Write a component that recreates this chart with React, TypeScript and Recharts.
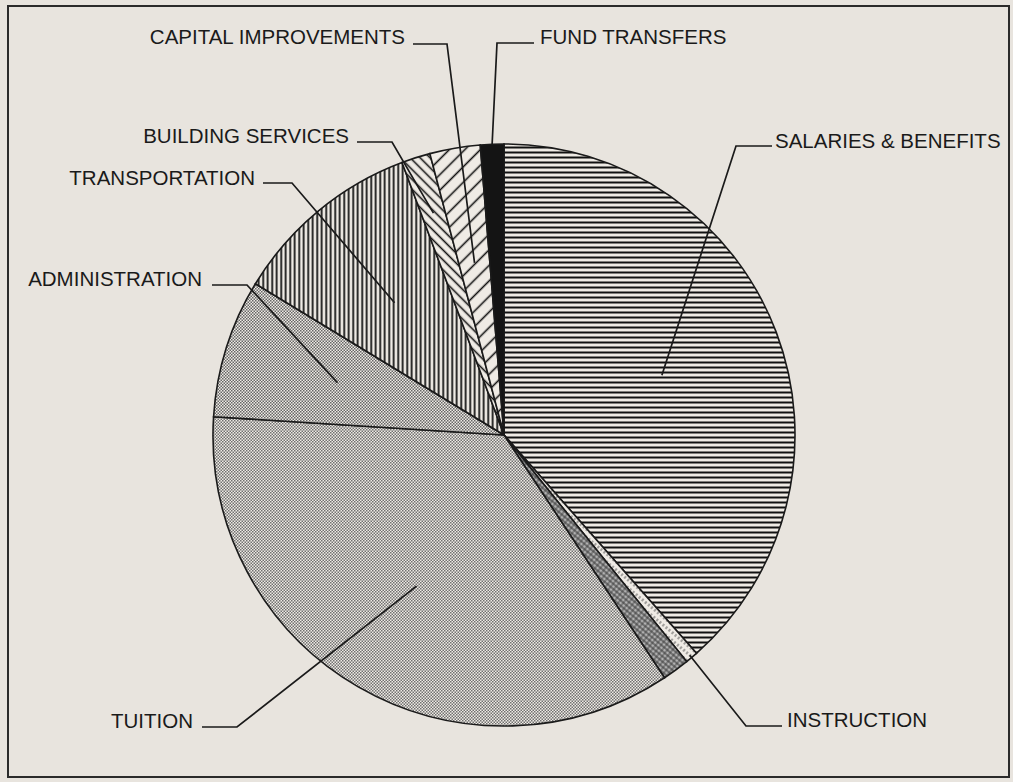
import React from 'react';
import { PieChart, Pie, Cell } from 'recharts';

// budget shares (percent), clockwise from 12 o'clock
const categories = [
  'SALARIES & BENEFITS',
  'INSTRUCTION',
  'OTHER',
  'TUITION',
  'ADMINISTRATION',
  'TRANSPORTATION',
  'BUILDING SERVICES',
  'CAPITAL IMPROVEMENTS',
  'FUND TRANSFERS',
];
const shares = [38.5, 0.7, 1.5, 35.3, 7.7, 10.6, 1.6, 2.8, 1.3];
const labelTexts = [
  'SALARIES & BENEFITS',
  'INSTRUCTION',
  '',
  'TUITION',
  'ADMINISTRATION',
  'TRANSPORTATION',
  'BUILDING SERVICES',
  'CAPITAL IMPROVEMENTS',
  'FUND TRANSFERS',
];

const data = categories.map((name, i) => ({ name, value: shares[i] }));

// where each callout sits: text anchor, leader elbow, and how deep into the slice it points
const labelLayout: ({ tx: number; ty: number; anchor: 'start' | 'end'; ly: number; x0: number; elbow: number; depth: number } | null)[] = [
  { tx: 775, ty: 140, anchor: 'start', ly: 146, x0: 772, elbow: 736, depth: 0.58 },
  { tx: 787, ty: 719, anchor: 'start', ly: 726, x0: 782, elbow: 746, depth: 0.99 },
  null,
  { tx: 193, ty: 720, anchor: 'end', ly: 727, x0: 202, elbow: 237, depth: 0.6 },
  { tx: 202, ty: 278, anchor: 'end', ly: 285, x0: 212, elbow: 247, depth: 0.6 },
  { tx: 255, ty: 177, anchor: 'end', ly: 183, x0: 263, elbow: 292, depth: 0.59 },
  { tx: 349, ty: 135, anchor: 'end', ly: 142, x0: 357, elbow: 392, depth: 0.8 },
  { tx: 405, ty: 36, anchor: 'end', ly: 44, x0: 413, elbow: 447, depth: 0.6 },
  { tx: 540, ty: 36, anchor: 'start', ly: 43, x0: 534, elbow: 497, depth: 1.0 },
];

const fills = [
  'url(#p-hlines)',
  'url(#p-light)',
  'url(#p-cross)',
  'url(#p-dots)',
  'url(#p-dots2)',
  'url(#p-vlines)',
  'url(#p-back)',
  'url(#p-fwd)',
  '#141414',
];

const BG = '#e8e4de';
const PAPER = '#efebe5';
const INK = '#1a1a1a';

const renderLabel = (props: any) => {
  const { cx, cy, midAngle, outerRadius, index } = props;
  const lay = labelLayout[index];
  if (!lay) return <g />;
  const RAD = Math.PI / 180;
  const r = outerRadius * lay.depth;
  const px = cx + r * Math.cos(-midAngle * RAD);
  const py = cy + r * Math.sin(-midAngle * RAD);
  return (
    <g>
      <polyline
        points={`${lay.x0},${lay.ly} ${lay.elbow},${lay.ly} ${px},${py}`}
        fill="none"
        stroke={INK}
        strokeWidth={1.7}
      />
      <text
        x={lay.tx}
        y={lay.ty}
        textAnchor={lay.anchor}
        dominantBaseline="central"
        fontFamily="'Liberation Sans', Arial, sans-serif"
        fontSize={20.5}
        fill={INK}
      >
        {labelTexts[index]}
      </text>
    </g>
  );
};

export default function App() {
  return (
    <div
      style={{
        position: 'absolute',
        left: 0,
        top: 0,
        width: 1013,
        height: 782,
        background: BG,
      }}
    >
      <div
        style={{
          position: 'absolute',
          left: 7,
          top: 5,
          width: 999,
          height: 769,
          border: '2px solid #2b2b2b',
        }}
      />
      <div style={{ position: 'absolute', left: 0, top: 0 }}>
        <PieChart width={1013} height={782} margin={{ top: 0, right: 0, bottom: 0, left: 0 }}>
          <defs>
            <pattern id="p-hlines" patternUnits="userSpaceOnUse" width={8} height={5}>
              <rect width={8} height={5} fill={PAPER} />
              <line x1={0} y1={2.5} x2={8} y2={2.5} stroke="#111" strokeWidth={2} />
            </pattern>
            <pattern id="p-vlines" patternUnits="userSpaceOnUse" width={4.5} height={8}>
              <rect width={4.5} height={8} fill={PAPER} />
              <line x1={2.2} y1={0} x2={2.2} y2={8} stroke="#111" strokeWidth={1.8} />
            </pattern>
            <pattern id="p-back" patternUnits="userSpaceOnUse" width={8} height={7} patternTransform="rotate(45)">
              <rect width={8} height={7} fill={PAPER} />
              <line x1={0} y1={3.5} x2={8} y2={3.5} stroke="#111" strokeWidth={1.6} />
            </pattern>
            <pattern id="p-fwd" patternUnits="userSpaceOnUse" width={8} height={11} patternTransform="rotate(-45)">
              <rect width={8} height={11} fill={PAPER} />
              <line x1={0} y1={5.5} x2={8} y2={5.5} stroke="#111" strokeWidth={1.6} />
            </pattern>
            <pattern id="p-dots" patternUnits="userSpaceOnUse" width={3} height={3}>
              <rect width={3} height={3} fill={PAPER} />
              <rect x={0} y={0} width={1.5} height={1.5} fill="#707070" />
              <rect x={1.5} y={1.5} width={1.5} height={1.5} fill="#707070" />
            </pattern>
            <pattern id="p-dots2" patternUnits="userSpaceOnUse" width={3} height={3}>
              <rect width={3} height={3} fill={PAPER} />
              <rect x={0} y={0} width={1.5} height={1.5} fill="#666" />
              <rect x={1.5} y={1.5} width={1.5} height={1.5} fill="#666" />
            </pattern>
            <pattern id="p-light" patternUnits="userSpaceOnUse" width={6} height={4} patternTransform="rotate(-50)">
              <rect width={6} height={4} fill={PAPER} />
              <line x1={0} y1={2} x2={3} y2={2} stroke="#555" strokeWidth={1} />
            </pattern>
            <pattern id="p-cross" patternUnits="userSpaceOnUse" width={4} height={4} patternTransform="rotate(40)">
              <rect width={4} height={4} fill="#b0b0b0" />
              <line x1={0} y1={1} x2={4} y2={1} stroke="#333" strokeWidth={1} />
              <line x1={1} y1={0} x2={1} y2={4} stroke="#333" strokeWidth={0.8} />
            </pattern>
          </defs>
          <Pie
            data={data}
            dataKey="value"
            nameKey="name"
            cx={504}
            cy={435}
            outerRadius={291}
            startAngle={90}
            endAngle={-270}
            stroke={INK}
            strokeWidth={1.6}
            label={renderLabel}
            labelLine={false}
            isAnimationActive={false}
          >
            {data.map((d, i) => (
              <Cell key={d.name} fill={fills[i]} />
            ))}
          </Pie>
        </PieChart>
      </div>
    </div>
  );
}
